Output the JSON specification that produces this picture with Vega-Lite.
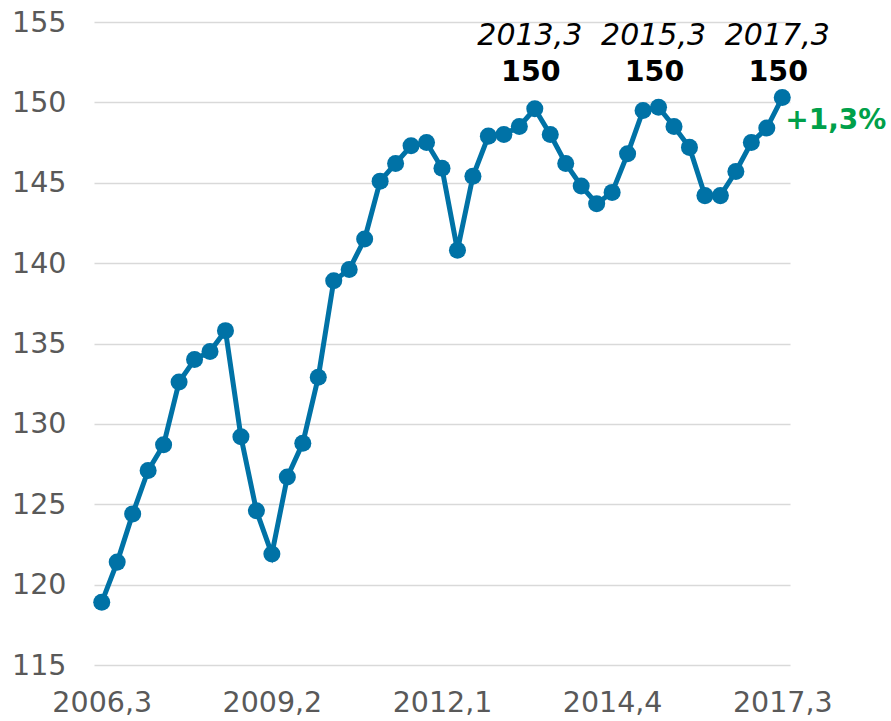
{
  "$schema": "https://vega.github.io/schema/vega-lite/v6.json",
  "width": 696,
  "height": 643,
  "autosize": "none",
  "padding": {"left": 94, "top": 22, "right": 101, "bottom": 56},
  "background": "white",
  "config": {
    "view": {"stroke": null},
    "font": "DejaVu Sans"
  },
  "datasets": {
    "series": [
      {"q": "2006,3", "v": 118.9}, {"q": "2006,4", "v": 121.4}, {"q": "2007,1", "v": 124.4},
      {"q": "2007,2", "v": 127.1}, {"q": "2007,3", "v": 128.7}, {"q": "2007,4", "v": 132.6},
      {"q": "2008,1", "v": 134.0}, {"q": "2008,2", "v": 134.5}, {"q": "2008,3", "v": 135.8},
      {"q": "2008,4", "v": 129.2}, {"q": "2009,1", "v": 124.6}, {"q": "2009,2", "v": 121.9},
      {"q": "2009,3", "v": 126.7}, {"q": "2009,4", "v": 128.8}, {"q": "2010,1", "v": 132.9},
      {"q": "2010,2", "v": 138.9}, {"q": "2010,3", "v": 139.6}, {"q": "2010,4", "v": 141.5},
      {"q": "2011,1", "v": 145.1}, {"q": "2011,2", "v": 146.2}, {"q": "2011,3", "v": 147.3},
      {"q": "2011,4", "v": 147.5}, {"q": "2012,1", "v": 145.9}, {"q": "2012,2", "v": 140.8},
      {"q": "2012,3", "v": 145.4}, {"q": "2012,4", "v": 147.9}, {"q": "2013,1", "v": 148.0},
      {"q": "2013,2", "v": 148.5}, {"q": "2013,3", "v": 149.6}, {"q": "2013,4", "v": 148.0},
      {"q": "2014,1", "v": 146.2}, {"q": "2014,2", "v": 144.8}, {"q": "2014,3", "v": 143.7},
      {"q": "2014,4", "v": 144.4}, {"q": "2015,1", "v": 146.8}, {"q": "2015,2", "v": 149.5},
      {"q": "2015,3", "v": 149.7}, {"q": "2015,4", "v": 148.5}, {"q": "2016,1", "v": 147.2},
      {"q": "2016,2", "v": 144.2}, {"q": "2016,3", "v": 144.2}, {"q": "2016,4", "v": 145.7},
      {"q": "2017,1", "v": 147.5}, {"q": "2017,2", "v": 148.4}, {"q": "2017,3", "v": 150.3}
    ],
    "notes": [
      {"q": "2013,3", "v": 149.6, "r": 150, "lbl": "150"},
      {"q": "2015,3", "v": 149.7, "r": 150, "lbl": "150"},
      {"q": "2017,3", "v": 150.3, "r": 150, "lbl": "150"}
    ],
    "change": [
      {"q": "2017,3", "v": 150.3, "txt": "+1,3%"}
    ]
  },
  "encoding": {
    "x": {
      "field": "q", "type": "ordinal", "sort": null,
      "scale": {"type": "point", "padding": 0.5},
      "axis": {
        "title": null, "values": ["2006,3", "2009,2", "2012,1", "2014,4", "2017,3"],
        "labelAngle": 0, "labelFontSize": 28.5, "labelColor": "#595959",
        "labelPadding": 23, "ticks": false, "domain": false, "grid": false
      }
    }
  },
  "layer": [
    {
      "data": {"name": "series"},
      "mark": {"type": "line", "color": "#0072A6", "strokeWidth": 5, "point": {"filled": true, "size": 290, "color": "#0072A6", "opacity": 1}},
      "encoding": {
        "y": {
          "field": "v", "type": "quantitative",
          "scale": {"domain": [115, 155], "nice": false, "zero": false},
          "axis": {
            "title": null, "values": [115, 120, 125, 130, 135, 140, 145, 150, 155],
            "labelFontSize": 28.5, "labelColor": "#595959", "labelPadding": 28,
            "ticks": false, "domain": false, "grid": true,
            "gridColor": "#d9d9d9", "gridWidth": 1.5
          }
        }
      }
    },
    {
      "data": {"name": "notes"},
      "mark": {"type": "text", "fontStyle": "italic", "fontSize": 30, "baseline": "middle", "align": "center", "dy": -66, "dx": -5, "color": "#000000"},
      "encoding": {
        "y": {"field": "r", "type": "quantitative"},
        "text": {"field": "q"}
      }
    },
    {
      "data": {"name": "notes"},
      "mark": {"type": "text", "fontWeight": "bold", "fontSize": 28.5, "baseline": "middle", "align": "center", "dy": -30, "dx": -4, "color": "#000000"},
      "encoding": {
        "y": {"field": "r", "type": "quantitative"},
        "text": {"field": "lbl"}
      }
    },
    {
      "data": {"name": "change"},
      "mark": {"type": "text", "fontWeight": "bold", "fontSize": 28, "baseline": "middle", "align": "left", "dx": 3, "dy": 23, "color": "#00A04A"},
      "encoding": {
        "y": {"field": "v", "type": "quantitative"},
        "text": {"field": "txt"}
      }
    }
  ]
}
